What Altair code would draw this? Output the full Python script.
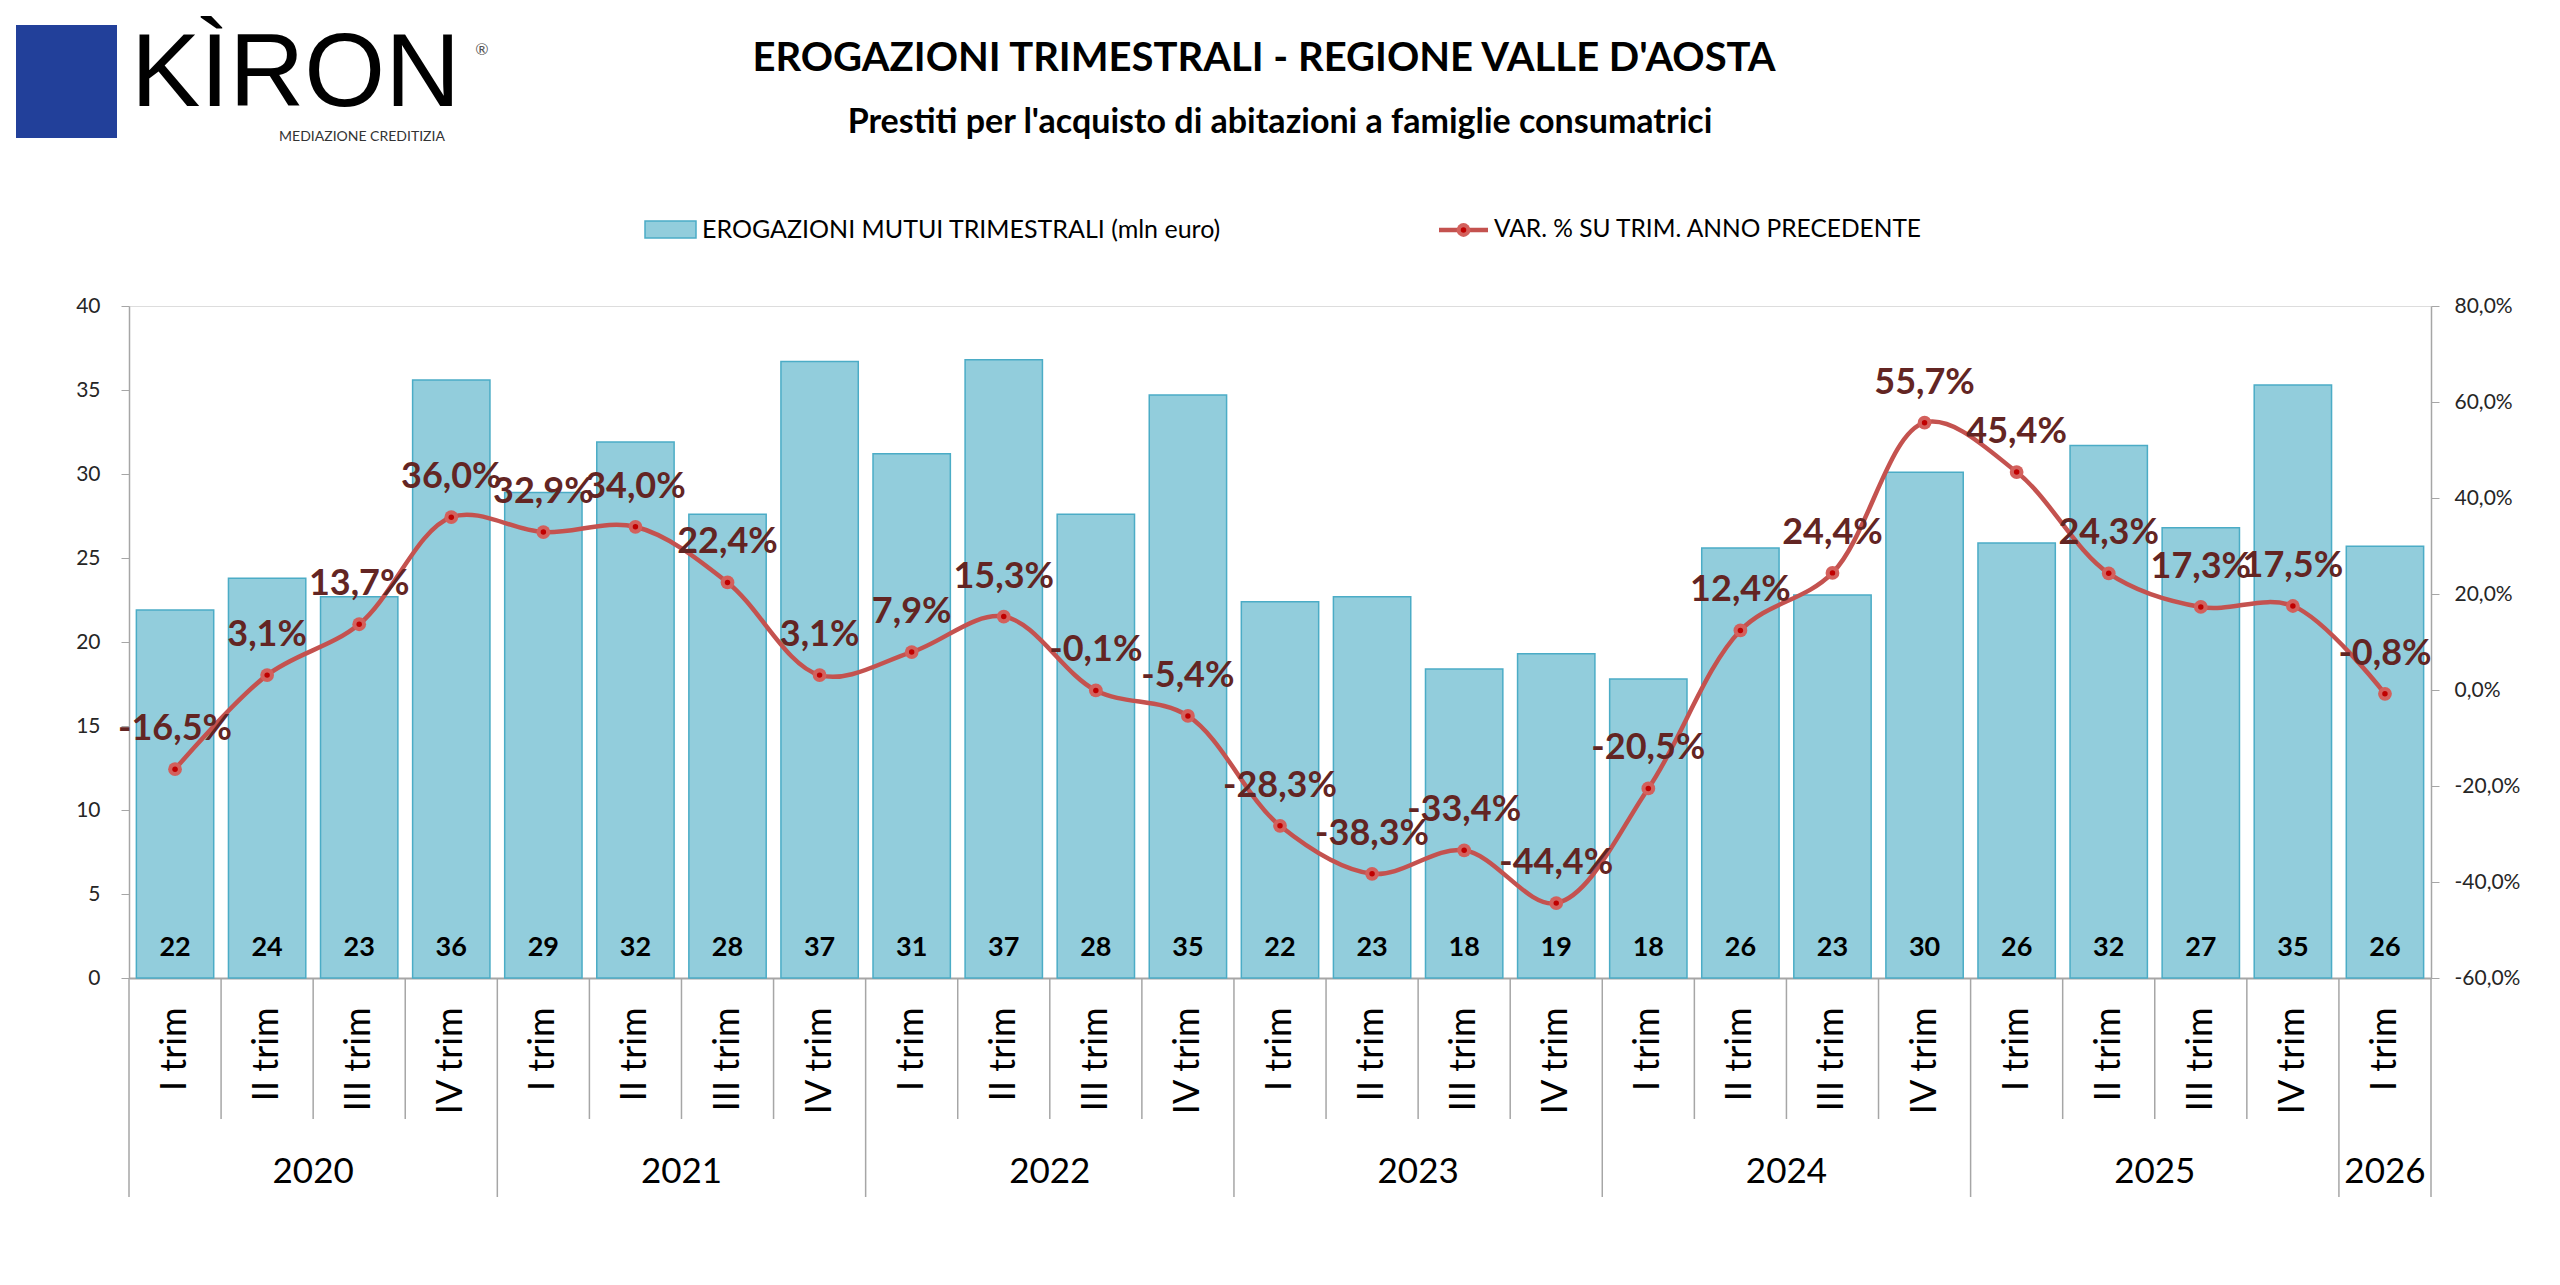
import altair as alt
import pandas as pd

# ---------------- data ----------------
years = ["2020"] * 4 + ["2021"] * 4 + ["2022"] * 4 + ["2023"] * 4 + ["2024"] * 4 + ["2025"] * 4 + ["2026"]
quarters = ["I trim", "II trim", "III trim", "IV trim"] * 6 + ["I trim"]
erogazioni = [21.9, 23.8, 22.7, 35.6, 28.9, 31.9, 27.6, 36.7, 31.2, 36.8, 27.6, 34.7,
              22.4, 22.7, 18.4, 19.3, 17.8, 25.6, 22.8, 30.1, 25.9, 31.7, 26.8, 35.3, 25.7]
variazione = [-16.5, 3.1, 13.7, 36.0, 32.9, 34.0, 22.4, 3.1, 7.9, 15.3, -0.1, -5.4,
              -28.3, -38.3, -33.4, -44.4, -20.5, 12.4, 24.4, 55.7, 45.4, 24.3, 17.3, 17.5, -0.8]
left_ticks = [0, 5, 10, 15, 20, 25, 30, 35, 40]
right_ticks = [-60, -40, -20, 0, 20, 40, 60, 80]

title_text = "EROGAZIONI TRIMESTRALI - REGIONE VALLE D'AOSTA"
subtitle_text = "Prestiti per l'acquisto di abitazioni a famiglie consumatrici"
legend_bar = "EROGAZIONI MUTUI TRIMESTRALI (mln euro)"
legend_line = "VAR. % SU TRIM. ANNO PRECEDENTE"

keys = [f"{y}|{q}" for y, q in zip(years, quarters)]
df = pd.DataFrame({"key": keys, "year": years, "q": quarters,
                   "erog": erogazioni, "var": variazione})

ydf = df.reset_index().groupby("year", sort=False)["index"].agg(["min", "max"]).reset_index()
ydf["start"] = ydf["min"]
ydf["end"] = ydf["max"] + 1
ydf["mid"] = (ydf["start"] + ydf["end"]) / 2
n = len(keys)
bounds = pd.DataFrame({"b": list(range(n + 1))})
long_b = set(ydf["start"].tolist()) | {n}
short_df = bounds[~bounds["b"].isin(long_b)]
long_df = bounds[bounds["b"].isin(long_b)]

# ---------------- styling ----------------
W, H = 2302, 672
FONT = "Lato"
BAR_FILL = "#92CDDC"
BAR_STROKE = "#4BACC6"
LINE_COL = "#C4524F"
LABEL_COL = "#632523"
GRID_COL = "#A6A6A6"
PCT_EXPR = "replace(replace(format({v}, '.1f'), '.', ','), '\u2212', '-') + '%'"


def xband(axis=None):
    return alt.X("key:N", sort=keys,
                 scale=alt.Scale(domain=keys, paddingInner=0.16, paddingOuter=0.08),
                 axis=axis, title=None)


xlin = alt.Scale(domain=[0, n], nice=False, zero=False)
yl_scale = alt.Scale(domain=[0, 40], nice=False, zero=False)
yr_scale = alt.Scale(domain=[-60, 80], nice=False, zero=False)

x_axis = alt.Axis(labelAngle=-90, labelAlign="right", labelBaseline="middle",
                  labelFont=FONT, labelFontSize=36, labelColor="black",
                  labelPadding=29, labelExpr="split(datum.value, '|')[1]",
                  ticks=False, tickSize=0, domainColor=GRID_COL, domainWidth=2,
                  labelOverlap=False)

left_axis = alt.Axis(orient="left", values=left_ticks, grid=False,
                     labelFont=FONT, labelFontSize=21, labelColor="#262626",
                     labelPadding=21, tickSize=8, tickColor=GRID_COL,
                     domainColor=GRID_COL, domainWidth=1.5, title=None)

right_axis = alt.Axis(orient="right", values=right_ticks, grid=False,
                      labelFont=FONT, labelFontSize=21, labelColor="#262626",
                      labelPadding=15, tickSize=8, tickColor=GRID_COL,
                      domainColor=GRID_COL, domainWidth=1.5, title=None,
                      labelExpr=PCT_EXPR.format(v="datum.value"))

base = alt.Chart(df)

bars = base.mark_bar(fill=BAR_FILL, stroke=BAR_STROKE, strokeWidth=1.5).encode(
    x=xband(x_axis),
    y=alt.Y("erog:Q", scale=yl_scale, axis=left_axis),
)

bar_labels = base.mark_text(font=FONT, fontSize=27, fontWeight="bold",
                            color="black", baseline="middle").encode(
    x=xband(),
    y=alt.value(H - 30),
    text=alt.Text("erog:Q", format=".0f"),
)

line = base.mark_line(interpolate="catmull-rom", color=LINE_COL, strokeWidth=4.5).encode(
    x=xband(),
    y=alt.Y("var:Q", scale=yr_scale, axis=right_axis),
)

pts_outer = base.mark_circle(size=190, color="#D3605C", opacity=1).encode(
    x=xband(), y=alt.Y("var:Q", scale=yr_scale, axis=None))
pts_inner = base.mark_circle(size=30, color="#C00000", opacity=1).encode(
    x=xband(), y=alt.Y("var:Q", scale=yr_scale, axis=None))

pct_labels = base.transform_calculate(
    lab=PCT_EXPR.format(v="datum.var")
).mark_text(font=FONT, fontSize=36, fontWeight="bold", color=LABEL_COL,
            baseline="middle", dy=-40).encode(
    x=xband(), y=alt.Y("var:Q", scale=yr_scale, axis=None), text="lab:N")

short_div = alt.Chart(short_df).mark_rule(color=GRID_COL, strokeWidth=1.5).encode(
    x=alt.X("b:Q", scale=xlin, axis=None), y=alt.value(H), y2=alt.value(H + 141))
long_div = alt.Chart(long_df).mark_rule(color=GRID_COL, strokeWidth=1.5).encode(
    x=alt.X("b:Q", scale=xlin, axis=None), y=alt.value(H), y2=alt.value(H + 219))

year_labels = alt.Chart(ydf).mark_text(font=FONT, fontSize=35, color="black",
                                       baseline="middle").encode(
    x=alt.X("mid:Q", scale=xlin, axis=None), y=alt.value(H + 194), text="year:N")

# ---------------- titles, legend, logo ----------------
one = pd.DataFrame({"t": [title_text], "s": [subtitle_text], "lb": [legend_bar],
                    "ll": [legend_line], "k": ["KÌRON"], "m": ["MEDIAZIONE CREDITIZIA"],
                    "r": ["®"]})
deco = alt.Chart(one)

title = deco.mark_text(font=FONT, fontSize=40, fontWeight="bold", color="black",
                       baseline="middle", align="center").encode(
    x=alt.value(1135), y=alt.value(-247), text="t:N")
subtitle = deco.mark_text(font=FONT, fontSize=34, fontWeight="bold", color="black",
                          baseline="middle", align="center").encode(
    x=alt.value(1151), y=alt.value(-183), text="s:N")

leg_rect = deco.mark_rect(fill=BAR_FILL, stroke=BAR_STROKE, strokeWidth=1.5).encode(
    x=alt.value(516), x2=alt.value(567), y=alt.value(-85), y2=alt.value(-68))
leg_text1 = deco.mark_text(font=FONT, fontSize=25, color="black", baseline="middle",
                           align="left").encode(x=alt.value(573), y=alt.value(-76), text="lb:N")
leg_line = deco.mark_rule(color=LINE_COL, strokeWidth=4.5).encode(
    x=alt.value(1310), x2=alt.value(1359), y=alt.value(-76))
leg_pt1 = deco.mark_circle(size=190, color="#D3605C", opacity=1).encode(
    x=alt.value(1334.5), y=alt.value(-76))
leg_pt2 = deco.mark_circle(size=30, color="#C00000", opacity=1).encode(
    x=alt.value(1334.5), y=alt.value(-76))
leg_text2 = deco.mark_text(font=FONT, fontSize=24.5, color="black", baseline="middle",
                           align="left").encode(x=alt.value(1365), y=alt.value(-76), text="ll:N")

logo_box = deco.mark_rect(fill="#22409A").encode(
    x=alt.value(-113), x2=alt.value(-12), y=alt.value(-281), y2=alt.value(-168))
logo_k = deco.mark_text(font="Liberation Sans", fontSize=104, color="black",
                        baseline="alphabetic", align="left").encode(
    x=alt.value(2), y=alt.value(-200), text="k:N")
logo_r = deco.mark_text(font=FONT, fontSize=16, color="#555555", baseline="middle",
                        align="center").encode(x=alt.value(353), y=alt.value(-256), text="r:N")
logo_m = deco.mark_text(font=FONT, fontSize=14, color="#333333", baseline="alphabetic",
                        align="center").encode(x=alt.value(233), y=alt.value(-165), text="m:N")

chart = alt.layer(
    bars, bar_labels, line, pts_outer, pts_inner, pct_labels,
    short_div, long_div, year_labels,
    title, subtitle, leg_rect, leg_text1, leg_line, leg_pt1, leg_pt2, leg_text2,
    logo_box, logo_k, logo_r, logo_m,
).resolve_scale(x="independent", y="independent").properties(
    width=W, height=H,
    autosize=alt.AutoSizeParams(type="none"),
    padding={"left": 121, "top": 298, "right": 110, "bottom": 260},
).configure_view(stroke=None).configure(background="white")

chart.save("out.html", embed_options={"renderer": "svg", "actions": False})
